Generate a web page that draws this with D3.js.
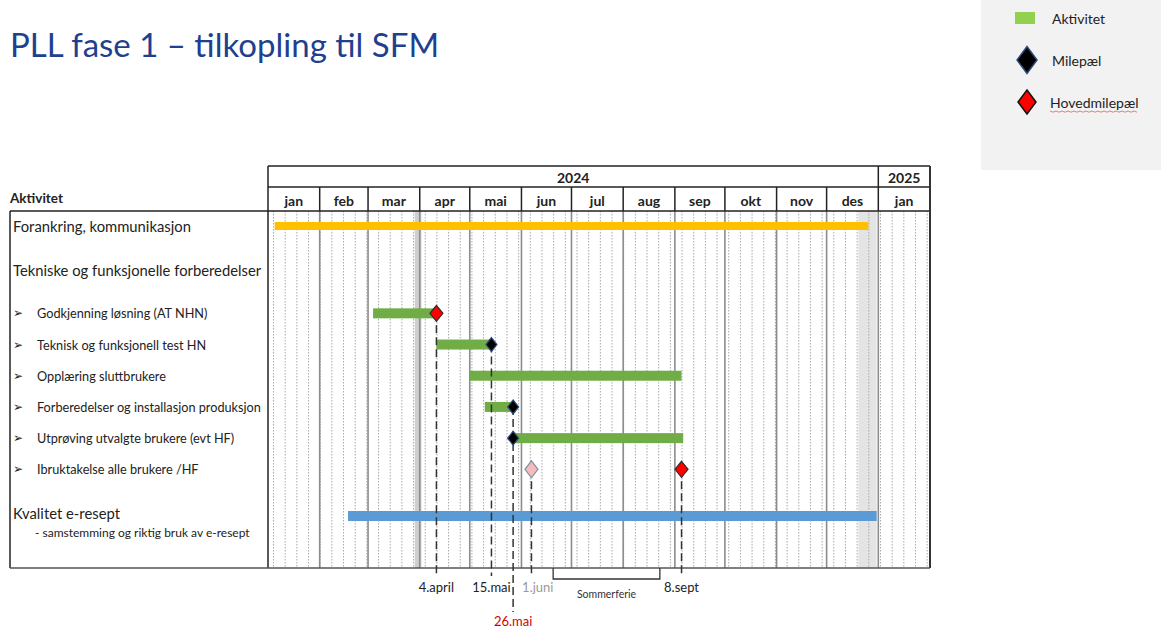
<!DOCTYPE html>
<html><head><meta charset="utf-8">
<script src="https://cdn.jsdelivr.net/npm/d3@7"></script>
<style>
html,body{margin:0;padding:0;background:#fff;}
svg{display:block;font-family:Lato,"Open Sans",sans-serif;}
</style></head>
<body>
<svg id="chart" width="1161" height="629"></svg>
<script>
// ---------- DATA ----------
const title = "PLL fase 1 – tilkopling til SFM";
const monthLabels = ["jan","feb","mar","apr","mai","jun","jul","aug","sep","okt","nov","des","jan"];
const yearLabels = ["2024","2025"];
const yearStarts = ["2024-01-01","2025-01-01"];
const yearEnds = ["2025-01-01","2025-02-01"];

const rowLabels = [
  "Forankring, kommunikasjon",
  "Tekniske og funksjonelle forberedelser",
  "Godkjenning løsning (AT NHN)",
  "Teknisk og funksjonell test HN",
  "Opplæring sluttbrukere",
  "Forberedelser og installasjon produksjon",
  "Utprøving utvalgte brukere (evt HF)",
  "Ibruktakelse alle brukere /HF",
  "Kvalitet e-resept"
];
const rowKinds = ["section","section","item","item","item","item","item","item","section"];
const rowSubLabels = ["","","","","","","","","- samstemming og riktig bruk av e-resept"];

// bars (activities)
const barRows   = [0, 2, 3, 4, 5, 6, 8];
const barStarts = ["2024-01-05","2024-03-04","2024-04-11","2024-05-01","2024-05-10","2024-05-27","2024-02-18"];
const barEnds   = ["2024-12-26","2024-04-11","2024-05-14","2024-09-05","2024-05-27","2024-09-06","2024-12-31"];
const barTypes  = ["kommunikasjon","aktivitet","aktivitet","aktivitet","aktivitet","aktivitet","kvalitet"];

// diamonds (milestones)
const msRows  = [2, 3, 5, 6, 7, 7];
const msDates = ["2024-04-11","2024-05-14","2024-05-27","2024-05-27","2024-06-07","2024-09-05"];
const msTypes = ["hoved","milepael","milepael","milepael","planlagt","hoved"];

// dated markers at the bottom
const markerDates  = ["2024-04-11","2024-05-14","2024-05-27","2024-06-07","2024-09-05"];
const markerFrom   = [2, 3, 5, 7, 7];
const markerLabels = ["4.april","15.mai","26.mai","1.juni","8.sept"];
const markerTypes  = ["normal","normal","kritisk","tentativ","normal"];

// shaded holiday columns and summer holiday bracket
const holidayStarts = ["2024-03-29","2024-12-20"];
const holidayEnds   = ["2024-04-02","2024-12-31"];
const holidayTypes  = ["påske","jul"];
const summerLabel = "Sommerferie";
const summerStart = "2024-06-20";
const summerEnd   = "2024-08-23";

const legendLabels = ["Aktivitet","Milepæl","Hovedmilepæl"];
const legendTypes  = ["aktivitet","milepael","hoved"];

// ---------- DRAW ----------
const P = d3.timeParse("%Y-%m-%d");
const svg = d3.select("#chart");
const domainStart = P("2024-01-01"), domainEnd = P("2025-02-01");
const x = d3.scaleTime().domain([domainStart, domainEnd]).range([268, 930]);

const L = {left:10, gridTop:166, yearBottom:187, headBottom:211, bottom:568};

// row slots
const slots = [];
rowKinds.forEach((k,i)=>{
  if(i===0){slots.push(0);return;}
  const step = (k==="item" && rowKinds[i-1]==="item") ? 1 : 1.4;
  slots.push(slots[i-1]+step);
});
const y = d3.scaleLinear().domain([0, 9.2]).range([226, 513]);

const barColor = {kommunikasjon:"#FFC000", aktivitet:"#70AD47", kvalitet:"#5B9BD5"};
const barH = {kommunikasjon:8, aktivitet:10, kvalitet:10};
const msStyle = {
  hoved:{fill:"#FF0000", stroke:"#3a2a2a", w:13, h:16},
  milepael:{fill:"#000000", stroke:"#2F4A7A", w:11, h:14},
  planlagt:{fill:"#F6BCBC", stroke:"#8090A8", w:13, h:17}
};
const markerColor = {normal:"#222", kritisk:"#D00000", tentativ:"#9a9a9a"};

// title
svg.append("text").attr("x",10).attr("y",57)
  .attr("fill","#1F3F8F").attr("font-size",33).text(title);

// legend
const lg = svg.append("g");
lg.append("rect").attr("x",981).attr("y",0).attr("width",180).attr("height",170).attr("fill","#F2F2F2");
const legY = d3.scalePoint().domain(legendTypes).range([18, 102]);
legendTypes.forEach((t,i)=>{
  const cy = legY(t);
  if(t==="aktivitet"){
    lg.append("rect").attr("x",1015).attr("y",cy-6).attr("width",20).attr("height",12).attr("fill","#92D050");
  } else {
    const w = t==="hoved"?18:20, h = t==="hoved"?24:27;
    lg.append("path").attr("d",`M${1027},${cy-h/2} L${1027+w/2},${cy} L${1027},${cy+h/2} L${1027-w/2},${cy} Z`)
      .attr("fill", t==="hoved"?"#FF0000":"#000").attr("stroke", t==="hoved"?"#111":"#2F4A7A").attr("stroke-width",1.5);
  }
  const tx = lg.append("text").attr("x", t==="hoved"?1050:1052).attr("y",cy).attr("dominant-baseline","central")
    .attr("font-size",14).attr("fill","#222").text(legendLabels[i]);
  if(t==="hoved"){
    const bb = tx.node().getBBox();
    lg.append("path").attr("d",d3.range(0,Math.floor(bb.width/3)+1).map(k=>`${k===0?"M":"L"}${bb.x+k*3},${cy+9+(k%2?1.2:0)}`).join(" "))
      .attr("fill","none").attr("stroke","#E06060").attr("stroke-width",0.8);
  }
});

// holiday shading
holidayStarts.forEach((s,i)=>{
  svg.append("rect").attr("x",x(P(s))).attr("y",L.headBottom)
    .attr("width",x(P(holidayEnds[i]))-x(P(s))).attr("height",L.bottom-L.headBottom)
    .attr("fill", holidayTypes[i]==="påske" ? "#CFCFCF" : "#E4E4E4");
});

// weekly dotted gridlines
const weeks = d3.timeThursday.range(domainStart, domainEnd);
svg.append("g").selectAll("line").data(weeks).join("line")
  .attr("x1",d=>x(d)+0.5).attr("x2",d=>x(d)+0.5).attr("y1",L.headBottom).attr("y2",L.bottom)
  .attr("stroke","#A8A8A8").attr("stroke-width",1).attr("stroke-dasharray","1.5,1.5");

// month boundaries in body
const months = d3.timeMonth.range(domainStart, domainEnd);
svg.append("g").selectAll("line").data(months.slice(1)).join("line")
  .attr("x1",d=>x(d)).attr("x2",d=>x(d)).attr("y1",L.headBottom).attr("y2",L.bottom)
  .attr("stroke","#8C8C8C").attr("stroke-width",1.6);

// header frame
const hdr = svg.append("g").attr("stroke","#222").attr("stroke-width",1.5);
hdr.append("line").attr("x1",x.range()[0]).attr("x2",x.range()[1]).attr("y1",L.gridTop).attr("y2",L.gridTop);
hdr.append("line").attr("x1",x.range()[0]).attr("x2",x.range()[1]).attr("y1",L.yearBottom).attr("y2",L.yearBottom);
hdr.append("line").attr("x1",L.left).attr("x2",x.range()[1]).attr("y1",L.headBottom).attr("y2",L.headBottom);
hdr.selectAll(".mb").data(months.slice(1)).join("line")
  .attr("x1",d=>x(d)).attr("x2",d=>x(d)).attr("y1",L.yearBottom).attr("y2",L.headBottom);
hdr.selectAll(".yb").data(yearStarts.slice(1)).join("line")
  .attr("x1",d=>x(P(d))).attr("x2",d=>x(P(d))).attr("y1",L.gridTop).attr("y2",L.yearBottom);
hdr.append("line").attr("x1",x.range()[0]).attr("x2",x.range()[0]).attr("y1",L.gridTop).attr("y2",L.bottom);
hdr.append("line").attr("x1",x.range()[1]).attr("x2",x.range()[1]).attr("y1",L.gridTop).attr("y2",L.bottom).attr("stroke","#333").attr("stroke-width",2);
hdr.append("line").attr("x1",L.left).attr("x2",L.left).attr("y1",L.headBottom).attr("y2",L.bottom);
hdr.append("line").attr("x1",L.left).attr("x2",x.range()[1]).attr("y1",L.bottom).attr("y2",L.bottom).attr("stroke","#555");

// year labels
yearLabels.forEach((t,i)=>{
  const cx = (x(P(yearStarts[i])) + x(P(yearEnds[i])))/2;
  svg.append("text").attr("x",cx).attr("y",(L.gridTop+L.yearBottom)/2+1).attr("text-anchor","middle")
    .attr("dominant-baseline","central").attr("font-weight","bold").attr("font-size",14).attr("fill","#222").text(t);
});
// month labels
months.forEach((m,i)=>{
  const cx = (x(m)+x(d3.timeMonth.offset(m,1)))/2;
  svg.append("text").attr("x",cx).attr("y",(L.yearBottom+L.headBottom)/2+1).attr("text-anchor","middle")
    .attr("dominant-baseline","central").attr("font-weight","bold").attr("font-size",14).attr("fill","#222").text(monthLabels[i]);
});
svg.append("text").attr("x",10).attr("y",198).attr("dominant-baseline","central")
  .attr("font-weight","bold").attr("font-size",13.5).attr("fill","#222").text("Aktivitet");

// row labels
rowLabels.forEach((t,i)=>{
  const cy = y(slots[i]);
  if(rowKinds[i]==="section"){
    svg.append("text").attr("x",13).attr("y",cy).attr("dominant-baseline","central")
      .attr("font-size",14.8).attr("fill","#222").text(t);
  } else {
    svg.append("text").attr("x",13).attr("y",cy).attr("dominant-baseline","central")
      .attr("font-family","DejaVu Sans").attr("font-size",12).attr("fill","#222").text("➢");
    svg.append("text").attr("x",37).attr("y",cy).attr("dominant-baseline","central")
      .attr("font-size",12.7).attr("fill","#222").text(t);
  }
  if(rowSubLabels[i]){
    svg.append("text").attr("x",35).attr("y",cy+19).attr("dominant-baseline","central")
      .attr("font-size",12).attr("fill","#222").text(rowSubLabels[i]);
  }
});

// bars
svg.append("g").selectAll("rect").data(barRows).join("rect")
  .attr("x",(r,i)=>x(P(barStarts[i])))
  .attr("width",(r,i)=>x(P(barEnds[i]))-x(P(barStarts[i])))
  .attr("y",(r,i)=>y(slots[r]) + (barTypes[i]==="kvalitet"?3:0) - barH[barTypes[i]]/2)
  .attr("height",(r,i)=>barH[barTypes[i]])
  .attr("fill",(r,i)=>barColor[barTypes[i]]);

// marker dashed lines
const markerX = markerDates.map(d=>x(P(d)));
markerDates.forEach((d,i)=>{
  const mx = markerX[i];
  const crit = markerTypes[i]==="kritisk";
  const y2 = crit ? 612 : 576;
  svg.append("line").attr("x1",mx).attr("x2",mx).attr("y1",y(slots[markerFrom[i]])).attr("y2",y2)
    .attr("stroke","#333").attr("stroke-width",1.5).attr("stroke-dasharray","8,4");
  const tx = svg.append("text").attr("x",mx).attr("y", crit ? 626 : 592)
    .attr("text-anchor","middle").attr("font-size",13).attr("fill",markerColor[markerTypes[i]]).text(markerLabels[i]);
  if(!crit){
    // keep label clear of neighbouring marker lines
    const w = tx.node().getComputedTextLength();
    markerX.forEach((ox,j)=>{
      if(j!==i && ox < mx && mx - w/2 < ox + 8) tx.attr("x", ox + 9 + w/2);
    });
  }
});

// summer bracket
const sx1 = x(P(summerStart)), sx2 = x(P(summerEnd));
svg.append("path").attr("d",`M${sx1},${L.bottom} V${L.bottom+11} H${sx2} V${L.bottom}`)
  .attr("fill","none").attr("stroke","#333").attr("stroke-width",1.3);
svg.append("text").attr("x",(sx1+sx2)/2).attr("y",598).attr("text-anchor","middle")
  .attr("font-size",10.5).attr("fill","#333").text(summerLabel);

// milestone diamonds
msRows.forEach((r,i)=>{
  const st = msStyle[msTypes[i]];
  const cx = x(P(msDates[i])), cy = y(slots[r]);
  svg.append("path").attr("d",`M${cx},${cy-st.h/2} L${cx+st.w/2},${cy} L${cx},${cy+st.h/2} L${cx-st.w/2},${cy} Z`)
    .attr("fill",st.fill).attr("stroke",st.stroke).attr("stroke-width",1.2);
});
</script>
</body></html>
